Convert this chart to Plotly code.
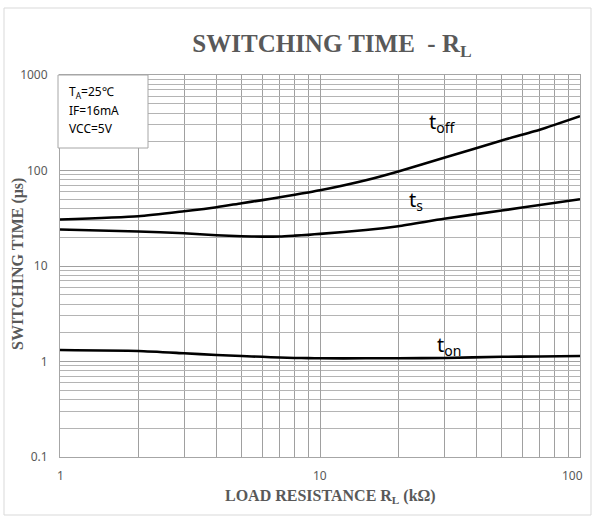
import math
import plotly.graph_objects as go

# Data
rl = [1, 2, 3, 4, 5, 6, 7, 8, 9, 10, 15, 20, 30, 50, 70, 100]
t_off = [30.7, 33.2, 37.5, 41.3, 45.5, 49.0, 52.5, 55.8, 58.9, 62.0, 79.0, 97.7, 136, 206, 267, 370]
t_s = [24.1, 23.0, 22.0, 21.0, 20.5, 20.3, 20.4, 20.8, 21.2, 21.7, 23.8, 26.1, 31.2, 38.1, 43.5, 50.0]
t_on = [1.32, 1.29, 1.22, 1.17, 1.14, 1.12, 1.10, 1.09, 1.085, 1.08, 1.08, 1.08, 1.09, 1.12, 1.13, 1.14]

x_ticks = [1, 10, 100]
x_tick_labels = ["1", "10", "100"]
y_ticks = [0.1, 1, 10, 100, 1000]
y_tick_labels = ["0.1", "1", "10", "100", "1000"]
x_minor = [m * d for d in (1, 10) for m in range(2, 10)]
y_minor = [m * d for d in (0.1, 1, 10, 100) for m in range(2, 10)]

GRAY_TXT = "#595959"
SERIF = "Liberation Serif"
SANS = "Noto Sans"

fig = go.Figure()
for ys in (t_off, t_s, t_on):
    fig.add_trace(go.Scatter(x=rl, y=ys, mode="lines",
                             line=dict(color="black", width=2.6, shape="spline", smoothing=0.6),
                             showlegend=False, hoverinfo="skip"))

fig.update_layout(
    width=595, height=519,
    margin=dict(l=60, r=15, t=75, b=62, autoexpand=False),
    paper_bgcolor="white", plot_bgcolor="white",
    title=dict(text="<b>SWITCHING TIME  - R<sub>L</sub></b>", x=332 / 595, xanchor="center",
               y=1 - 43 / 519, yanchor="middle",
               font=dict(family=SERIF, size=25, color=GRAY_TXT)),
)
fig.update_xaxes(type="log", range=[0, 2], tickvals=x_ticks, showticklabels=False,
                 showgrid=True, gridcolor="#a0a0a0", gridwidth=1,
                 minor=dict(tickvals=x_minor, showgrid=True, gridcolor="#a0a0a0", gridwidth=1),
                 ticks="", showline=True, linecolor="#a6a6a6", mirror=True,
                 automargin=False, zeroline=False)
fig.update_yaxes(type="log", range=[-1, 3], tickvals=y_ticks, ticktext=y_tick_labels,
                 showgrid=True, gridcolor="#a0a0a0", gridwidth=1,
                 minor=dict(tickvals=y_minor, showgrid=True, gridcolor="#b4b4b4", gridwidth=1),
                 ticks="", showline=True, linecolor="#a6a6a6", mirror=True,
                 ticklabelstandoff=9, automargin=False,
                 tickfont=dict(family=SANS, size=12, color=GRAY_TXT), zeroline=False)

# x tick labels (the last one is shifted left to stay inside the page, as in the reference)
x_shift = [0, 0, -8]
for v, lab, sh in zip(x_ticks, x_tick_labels, x_shift):
    fig.add_annotation(x=math.log10(v), yref="paper", y=(457 - 475) / 382, text=lab,
                       showarrow=False, xanchor="center", yanchor="middle", xshift=sh,
                       font=dict(family=SANS, size=12, color=GRAY_TXT))

# outer frame
fig.add_shape(type="rect", xref="paper", yref="paper",
              x0=(4 - 60) / 520, x1=(591 - 60) / 520,
              y0=(457 - 515) / 382, y1=(457 - 8) / 382,
              line=dict(color="#d9d9d9", width=1), fillcolor="rgba(0,0,0,0)", layer="below")

# conditions box
fig.add_shape(type="rect", xref="paper", yref="paper",
              x0=(58 - 60) / 520, x1=(148 - 60) / 520,
              y0=(457 - 148) / 382, y1=(457 - 75) / 382,
              line=dict(color="#a6a6a6", width=1), fillcolor="white", layer="above")
for txt, py in (("T<sub>A</sub>=25℃", 92), ("IF=16mA", 110), ("VCC=5V", 128)):
    fig.add_annotation(xref="paper", yref="paper", x=(67 - 60) / 520, y=(457 - py) / 382,
                       text=txt, showarrow=False, xanchor="left", yanchor="middle",
                       font=dict(family=SANS, size=12, color="black"))

# curve labels
for txt, xx, yy in (("t<sub>off</sub>", 29.5, 318), ("t<sub>s</sub>", 23.4, 48.5), ("t<sub>on</sub>", 31.3, 1.47)):
    fig.add_annotation(x=math.log10(xx), y=math.log10(yy), text=txt,
                       showarrow=False, xanchor="center", yanchor="middle",
                       font=dict(family=SANS, size=20, color="black"))

# axis titles
fig.add_annotation(xref="paper", yref="paper", x=(330 - 60) / 520, y=(457 - 497) / 382,
                   text="<b>LOAD RESISTANCE R<sub>L</sub> (kΩ)</b>", showarrow=False,
                   xanchor="center", yanchor="middle",
                   font=dict(family=SERIF, size=16, color=GRAY_TXT))
fig.add_annotation(xref="paper", yref="paper", x=(18 - 60) / 520, y=(457 - 264) / 382,
                   text="<b>SWITCHING TIME (μs)</b>", showarrow=False, textangle=-90,
                   xanchor="center", yanchor="middle",
                   font=dict(family=SERIF, size=16, color=GRAY_TXT))

fig.write_html("out.html", config={"displayModeBar": False},
               post_script="document.body.style.margin='0';")
